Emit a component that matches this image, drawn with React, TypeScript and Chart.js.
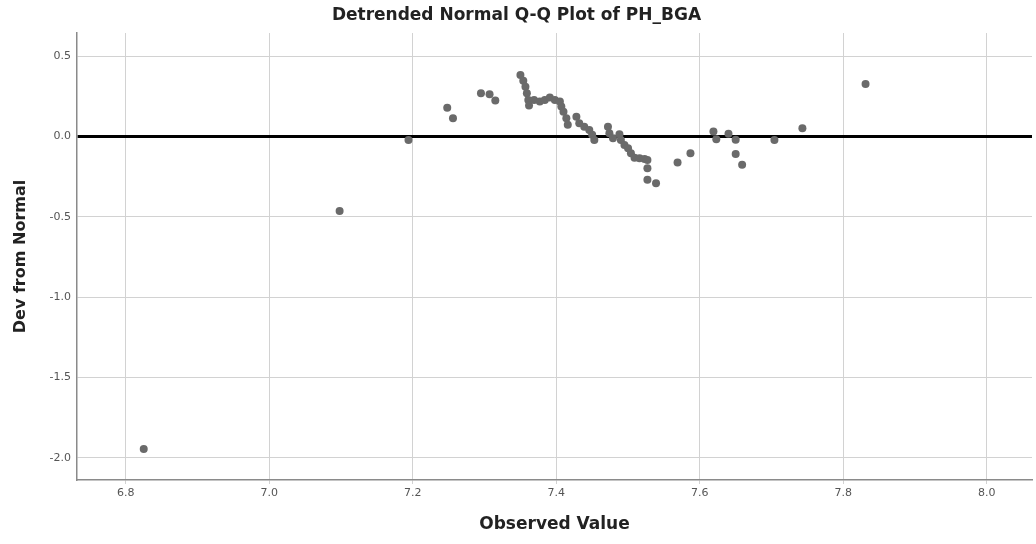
import React, { useEffect, useRef } from "react";
import { Chart, registerables } from "chart.js";

Chart.register(...registerables);

const TITLE = "Detrended Normal Q-Q Plot of PH_BGA";
const X_TITLE = "Observed Value";
const Y_TITLE = "Dev from Normal";

const observed: number[] = [
  6.825, 7.098, 7.194, 7.248, 7.256, 7.295, 7.307, 7.315,
  7.350, 7.354, 7.357, 7.359, 7.361, 7.362, 7.369, 7.377,
  7.384, 7.391, 7.398, 7.405, 7.407, 7.410, 7.414, 7.416,
  7.428, 7.432, 7.439, 7.446, 7.450, 7.453, 7.472, 7.474,
  7.479, 7.488, 7.490, 7.495, 7.500, 7.504, 7.509, 7.516,
  7.523, 7.527, 7.527, 7.527, 7.539, 7.569, 7.587, 7.619,
  7.623, 7.640, 7.650, 7.650, 7.659, 7.704, 7.743, 7.831,
];

const devFromNormal: number[] = [
  -1.946, -0.464, -0.022, 0.179, 0.113, 0.269, 0.263, 0.223,
  0.383, 0.346, 0.310, 0.269, 0.227, 0.192, 0.227, 0.217,
  0.227, 0.242, 0.227, 0.217, 0.186, 0.154, 0.113, 0.072,
  0.123, 0.082, 0.061, 0.040, 0.010, -0.022, 0.061, 0.020,
  -0.011, 0.014, -0.022, -0.053, -0.073, -0.105, -0.132, -0.136,
  -0.140, -0.146, -0.198, -0.270, -0.291, -0.163, -0.105, 0.030,
  -0.018, 0.016, -0.020, -0.110, -0.177, -0.022, 0.051, 0.327,
];

const X_MIN = 6.732;
const X_MAX = 8.063;
const Y_MIN = -2.139;
const Y_MAX = 0.644;

const FONT = "'DejaVu Sans', 'Liberation Sans', Arial, sans-serif";

export default function App() {
  const ref = useRef<HTMLCanvasElement | null>(null);

  useEffect(() => {
    document.body.style.margin = "0";
    const canvas = ref.current;
    if (!canvas) return;
    const points = observed.map((x, i) => ({ x, y: devFromNormal[i] }));
    const chart = new Chart(canvas, {
      type: "scatter",
      data: {
        datasets: [
          {
            data: points,
            backgroundColor: "#6a6a6a",
            borderWidth: 0,
            pointRadius: 4,
            pointHoverRadius: 4,
          },
        ],
      },
      options: {
        responsive: false,
        animation: false,
        layout: { padding: { left: 0, right: 3, top: 0, bottom: 0 } },
        plugins: {
          legend: { display: false },
          tooltip: { enabled: false },
          title: {
            display: true,
            text: TITLE,
            color: "#222",
            font: { family: FONT, size: 17, weight: "bold" },
            padding: { top: 5, bottom: 7.6 },
          },
        },
        scales: {
          x: {
            type: "linear",
            min: X_MIN,
            max: X_MAX,
            afterFit: (s: any) => {
              s.height = 64;
            },
            ticks: {
              stepSize: 0.2,
              includeBounds: false,
              color: "#555",
              font: { family: FONT, size: 11 },
              padding: 3,
              callback: (v: any) => Number(v).toFixed(1),
            },
            grid: {
              color: "#d2d2d2",
              lineWidth: 1,
              tickLength: 4,
              drawTicks: true,
            },
            border: { color: "#8a8a8a", width: 1.5 },
            title: {
              display: true,
              text: X_TITLE,
              color: "#222",
              font: { family: FONT, size: 17, weight: "bold" },
              padding: { top: 4, bottom: 9 },
            },
          },
          y: {
            type: "linear",
            min: Y_MIN,
            max: Y_MAX,
            afterFit: (s: any) => {
              s.width = 77;
            },
            ticks: {
              stepSize: 0.5,
              includeBounds: false,
              color: "#555",
              font: { family: FONT, size: 11 },
              padding: 6,
              callback: (v: any) => Number(v).toFixed(1),
            },
            grid: {
              drawTicks: false,
              color: (ctx: any) =>
                ctx.tick && Math.abs(ctx.tick.value) < 1e-9 ? "#000" : "#d2d2d2",
              lineWidth: (ctx: any) =>
                ctx.tick && Math.abs(ctx.tick.value) < 1e-9 ? 3 : 1,
            },
            border: { color: "#8a8a8a", width: 1.5 },
            title: {
              display: true,
              text: Y_TITLE,
              color: "#222",
              font: { family: FONT, size: 16, weight: "bold" },
              padding: { top: 11, bottom: 4 },
            },
          },
        },
      },
    });
    return () => chart.destroy();
  }, []);

  return <canvas ref={ref} width={1036} height={544} style={{ display: "block" }} />;
}
